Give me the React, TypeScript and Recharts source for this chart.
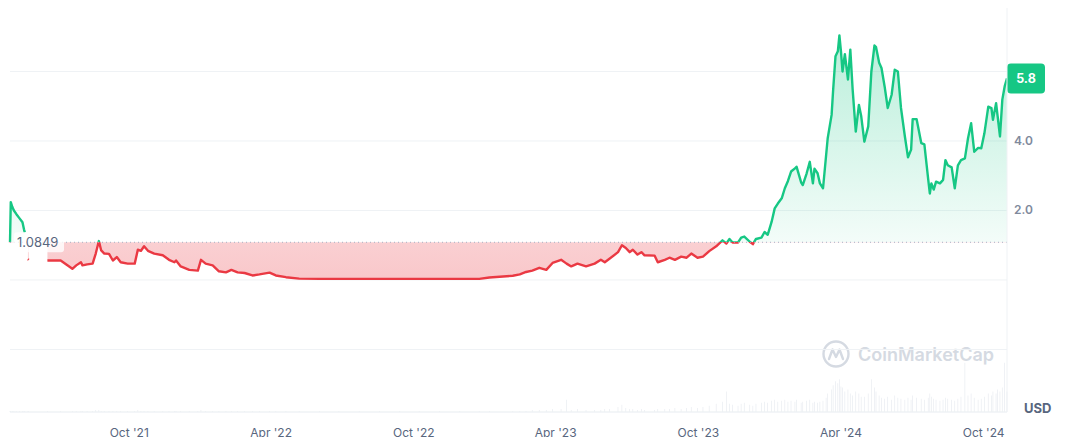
import React from 'react';
import { ComposedChart, Area, Bar, XAxis, YAxis, CartesianGrid, ReferenceLine } from 'recharts';

// days counted from 2021-05-01
const days = [
  0, 1, 3, 5, 8, 12, 16, 18, 19, 21,
  23, 24, 26, 48, 65, 80, 85, 91, 93, 99,
  106, 110, 114, 117, 121, 127, 132, 137, 142, 151,
  160, 164, 168, 172, 177, 185, 196, 204, 211, 213,
  219, 230, 241, 245, 251, 260, 268, 277, 284, 292,
  301, 311, 320, 333, 341, 354, 371, 397, 422, 448,
  474, 500, 525, 551, 577, 602, 615, 645, 654, 662,
  670, 679, 688, 696, 707, 714, 720, 728, 739, 750,
  758, 763, 769, 780, 785, 790, 795, 799, 805, 810,
  814, 827, 831, 840, 846, 853, 861, 868, 874, 882,
  889, 897, 906, 914, 919, 923, 927, 934, 938, 942,
  949, 953, 957, 964, 968, 972, 977, 981, 985, 990,
  994, 998, 1002, 1007, 1009, 1015, 1017, 1022, 1026, 1030,
  1032, 1036, 1039, 1043, 1047, 1049, 1054, 1056, 1059, 1062,
  1064, 1066, 1068, 1071, 1075, 1078, 1081, 1085, 1089, 1092,
  1096, 1101, 1105, 1109, 1111, 1115, 1118, 1122, 1126, 1131,
  1135, 1139, 1143, 1148, 1152, 1156, 1158, 1163, 1169, 1173,
  1178, 1180, 1182, 1185, 1188, 1193, 1197, 1200, 1203, 1208,
  1212, 1216, 1220, 1225, 1229, 1233, 1237, 1242, 1246, 1250,
  1255, 1259, 1261, 1265, 1267, 1270, 1273, 1276, 1279,
];

const prices = [
  1.0849, 2.24, 2.1, 2.0, 1.9, 1.78, 1.66, 1.45, 1.37, null,
  0.6, 0.58, null, 0.56, 0.56, 0.32, 0.42, 0.51, 0.42, 0.45,
  0.47, 0.76, 1.12, 0.85, 0.76, 0.75, 0.56, 0.66, 0.51, 0.47,
  0.47, 0.87, 0.84, 0.97, 0.84, 0.76, 0.71, 0.58, 0.51, 0.56,
  0.39, 0.29, 0.27, 0.58, 0.47, 0.42, 0.25, 0.22, 0.29, 0.22,
  0.2, 0.13, 0.16, 0.21, 0.13, 0.08, 0.04, 0.03, 0.03, 0.03,
  0.03, 0.03, 0.03, 0.03, 0.03, 0.03, 0.07, 0.12, 0.16, 0.23,
  0.27, 0.35, 0.29, 0.49, 0.58, 0.47, 0.39, 0.47, 0.39, 0.47,
  0.58, 0.51, 0.61, 0.8, 1.0, 0.92, 0.8, 0.87, 0.73, 0.8,
  0.71, 0.7, 0.51, 0.58, 0.64, 0.58, 0.67, 0.64, 0.76, 0.64,
  0.67, 0.83, 0.97, 1.14, 1.05, 1.18, 1.08, 1.08, 1.22, 1.25,
  1.1, 1.03, 1.18, 1.22, 1.38, 1.3, 1.67, 2.06, 2.2, 2.35,
  2.64, 2.85, 3.12, 3.21, 3.26, 2.8, 2.73, 3.07, 3.4, 2.78,
  3.2, 3.07, 2.78, 2.64, 3.6, 4.08, 4.75, 5.48, 6.44, 6.58,
  7.04, 6.58, 6.0, 6.5, 5.77, 6.63, 5.48, 4.27, 5.04, 4.71,
  3.98, 4.42, 6.0, 6.75, 6.7, 6.25, 6.1, 5.57, 4.95, 5.33,
  6.05, 6.0, 4.95, 4.13, 3.53, 3.75, 4.63, 4.63, 3.94, 3.9,
  2.88, 2.49, 2.78, 2.6, 2.83, 2.78, 2.88, 3.45, 3.3, 3.24,
  2.64, 3.3, 3.45, 3.5, 4.08, 4.51, 3.69, 3.8, 3.79, 4.22,
  4.99, 4.95, 4.61, 5.09, 4.71, 4.13, 5.19, 5.57, 5.8,
];

// volume, millions USD
const volumes = [
  1, 1, 1, 1, 1, 1, 1, 1, 1, 0,
  1, 1, 0, 1, 1, 1, 1, 1, 1, 1,
  1, 2, 2, 1, 1, 1, 1, 1, 1, 1,
  1, 2, 1, 1, 1, 1, 1, 1, 1, 1,
  1, 1, 1, 2, 1, 1, 1, 1, 1, 1,
  1, 1, 1, 1, 1, 1, 1, 1, 1, 1,
  1, 1, 1, 1, 1, 1, 1, 1, 1, 1,
  2, 2, 2, 3, 3, 12, 2, 3, 2, 2,
  2, 3, 3, 5, 7, 4, 3, 3, 2, 3,
  2, 2, 3, 3, 3, 4, 3, 4, 5, 4,
  5, 6, 8, 10, 20, 8, 7, 6, 8, 9,
  7, 6, 8, 9, 10, 9, 11, 12, 10, 11,
  12, 10, 11, 10, 12, 9, 10, 11, 12, 9,
  10, 9, 10, 11, 14, 18, 22, 26, 30, 28,
  32, 25, 24, 20, 22, 18, 16, 20, 18, 15,
  15, 18, 32, 24, 20, 16, 14, 13, 15, 12,
  16, 14, 13, 12, 14, 12, 16, 14, 13, 12,
  14, 18, 15, 13, 12, 11, 12, 14, 13, 12,
  11, 13, 15, 48, 16, 18, 14, 12, 13, 15,
  18, 16, 20, 18, 22, 20, 24, 48, 20,
];

const xTicks = [153, 335, 518, 700, 883, 1066, 1249];
const xTickLabels = ["Oct '21", "Apr '22", "Oct '22", "Apr '23", "Oct '23", "Apr '24", "Oct '24"];
const yTicks = [-2, 0, 2, 4, 6, 8];
const yTickLabels = ['', '', '2.0', '4.0', '', ''];

const baseline = 1.0849;
const lastPrice = 5.8;

const GREEN = '#16c784';
const RED = '#ea3943';

const table = days.map((day, i) => ({ day, price: prices[i], volume: volumes[i] }));

const known = prices.filter((p) => p !== null) as number[];
const pMax = Math.max(...known);
const pMin = Math.min(...known);
const off = (pMax - baseline) / (pMax - pMin);

const PriceTick = (props: any) => {
  const { x, y, payload } = props;
  const label = yTickLabels[yTicks.indexOf(payload.value)];
  if (!label) return null;
  return (
    <text x={x} y={y} dy={4} textAnchor="start" fill="#808a9d" fontSize={12} fontWeight={600}>
      {label}
    </text>
  );
};

const BaseLabel = (props: any) => {
  const vb = props.viewBox;
  if (!vb) return null;
  return (
    <g>
      <rect x={vb.x + 4} y={vb.y - 10} width={50} height={20} rx={3} fill="#ffffff" fillOpacity={0.8} />
      <text x={vb.x + 7} y={vb.y + 5} fill="#58667e" fontSize={13}>
        {baseline}
      </text>
    </g>
  );
};

const LastLabel = (props: any) => {
  const vb = props.viewBox;
  if (!vb) return null;
  const x = vb.x + vb.width;
  return (
    <g>
      <rect x={x} y={vb.y - 15} width={38} height={30} rx={4} fill={GREEN} />
      <text x={x + 19} y={vb.y + 4.5} textAnchor="middle" fill="#ffffff" fontSize={12.5} fontWeight={700}>
        {lastPrice}
      </text>
    </g>
  );
};

const PriceChart = () => {
  return (
    <div style={{ position: 'relative', width: 1078, height: 445, margin: -8, fontFamily: 'Inter, sans-serif', background: '#fff' }}>
      <div style={{ position: 'absolute', left: 821, top: 339, display: 'flex', alignItems: 'center', color: '#d5dae2' }}>
        <svg width={30} height={30} viewBox="0 0 30 30">
          <circle cx={15} cy={15} r={12.5} fill="none" stroke="#d5dae2" strokeWidth={2.4} />
          <path d="M8 20 L11.5 10.5 L15 18 L18.5 10.5 L22 20" fill="none" stroke="#d5dae2" strokeWidth={2.4} strokeLinejoin="round" strokeLinecap="round" />
        </svg>
        <span style={{ marginLeft: 7, fontSize: 18, fontWeight: 600 }}>CoinMarketCap</span>
      </div>
      <ComposedChart width={1078} height={445} data={table} margin={{ top: 2, right: 0, left: 10, bottom: 0 }}>
        <defs>
          <linearGradient id="fillGrad" x1="0" y1="0" x2="0" y2="1">
            <stop offset={0} stopColor={GREEN} stopOpacity={0.3} />
            <stop offset={off} stopColor={GREEN} stopOpacity={0.05} />
            <stop offset={off} stopColor={RED} stopOpacity={0.24} />
            <stop offset={1} stopColor={RED} stopOpacity={0.28} />
          </linearGradient>
          <linearGradient id="strokeGrad" x1="0" y1="0" x2="0" y2="1">
            <stop offset={off} stopColor={GREEN} />
            <stop offset={off} stopColor={RED} />
          </linearGradient>
        </defs>
        <CartesianGrid yAxisId="price" vertical={false} stroke="#eff2f5" />
        <XAxis
          dataKey="day"
          type="number"
          domain={[0, 1279]}
          ticks={xTicks}
          tickFormatter={(v) => xTickLabels[xTicks.indexOf(v)]}
          height={33}
          axisLine={{ stroke: '#eff2f5' }}
          tickLine={false}
          tickSize={6}
          tickMargin={10}
          tick={{ fill: '#58667e', fontSize: 12 }}
        />
        <YAxis
          yAxisId="price"
          orientation="right"
          width={71}
          domain={[-3.8, 8]}
          ticks={yTicks}
          allowDataOverflow
          axisLine={{ stroke: '#eff2f5' }}
          tickLine={false}
          tickSize={0}
          tickMargin={7}
          tick={<PriceTick />}
        />
        <YAxis yAxisId="vol" hide domain={[0, 400]} />
        <Bar yAxisId="vol" dataKey="volume" fill="#e9ecf1" barSize={2} isAnimationActive={false} />
        <Area
          yAxisId="price"
          type="linear"
          dataKey="price"
          baseValue={baseline}
          stroke="url(#strokeGrad)"
          strokeWidth={2.4}
          strokeLinejoin="round"
          fill="url(#fillGrad)"
          fillOpacity={1}
          dot={false}
          activeDot={false}
          connectNulls={false}
          isAnimationActive={false}
        />
        <ReferenceLine yAxisId="price" y={baseline} stroke="#a6b0c3" strokeDasharray="1 3" label={<BaseLabel />} />
        <ReferenceLine yAxisId="price" y={lastPrice} stroke="none" label={<LastLabel />} />
      </ComposedChart>
      <div style={{ position: 'absolute', left: 1024, top: 400, fontSize: 13, fontWeight: 700, color: '#58667e' }}>USD</div>
    </div>
  );
};

export default PriceChart;
